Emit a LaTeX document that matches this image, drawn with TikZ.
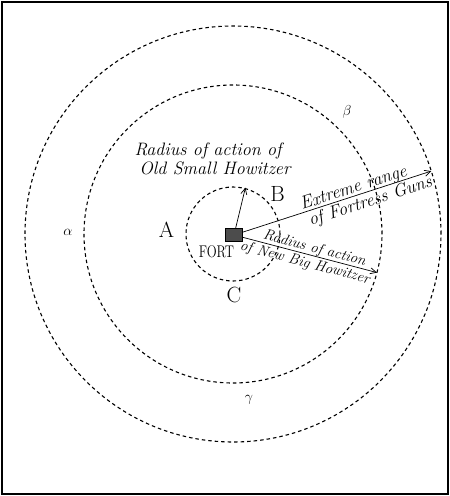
\documentclass[tikz,border=0pt]{standalone}
\usetikzlibrary{arrows.meta}
\begin{document}
\begin{tikzpicture}[x=1pt,y=1pt,
    ring/.style={line width=1.1pt, dash pattern=on 3.5pt off 3pt},
    shotline/.style={-{Straight Barb[length=6pt,width=6pt]}, line width=0.7pt},
    fort/.style={draw, line width=0.6pt, fill=black!70, minimum width=17pt, minimum height=13pt, inner sep=0pt},
    note/.style={font=\fontsize{18}{20}\selectfont\itshape, inner sep=0pt},
    smallnote/.style={font=\fontsize{15}{17}\selectfont\itshape, inner sep=0pt},
    zone/.style={font=\fontsize{22}{24}\selectfont, inner sep=0pt},
    greek/.style={font=\fontsize{15}{17}\selectfont, inner sep=0pt}]
  \useasboundingbox (-233,-262) rectangle (217,234);
  \draw[line width=1.2pt] (-231,-260) rectangle (215,232);

  % the three ranges round the fort
  \coordinate (centre) at (0,0);
  \draw[ring] (centre) circle (47pt);
  \draw[ring] (centre) circle (149pt);
  \draw[ring] (centre) circle (208pt);

  \node[fort] (fort) at (1,-1) {};
  \coordinate (tipOld) at (75:48);
  \coordinate (tipGuns) at (17.6:208);
  \coordinate (tipNew) at (-15:149);
  \draw[shotline] (fort) -- (tipOld);
  \draw[shotline] (fort)
    -- node[note, pos=0.6, sloped, above=-1pt] (gunsA) {Extreme range}
       node[note, pos=0.66, sloped, below=2pt] (gunsB) {of Fortress Guns}
    (tipGuns);
  \draw[shotline] (fort)
    -- node[smallnote, pos=0.52, sloped, above=0pt] (newA) {Radius of action}
       node[smallnote, pos=0.48, sloped, below=2pt] (newB) {of New Big Howitzer}
    (tipNew);

  % labels
  \node[note] (oldA) at (-25,83) {Radius of action of};
  \node[note] (oldB) at (-18,66) {Old Small Howitzer};
  \node[font=\fontsize{13}{15}\selectfont, inner sep=0pt] (fortname) at (-16.5,-17.5) {\scalebox{1}[1.3]{FORT}};

  \node[zone] (A) at (-66.5,4) {A};
  \node[zone] (B) at (44.5,40.5) {B};
  \node[zone] (C) at (1,-61) {C};

  \node[greek] (alpha) at (-165,2) {$\alpha$};
  \node[greek] (beta) at (114,122) {$\beta$};
  \node[greek] (gamma) at (16,-166) {$\gamma$};
\end{tikzpicture}
\end{document}
